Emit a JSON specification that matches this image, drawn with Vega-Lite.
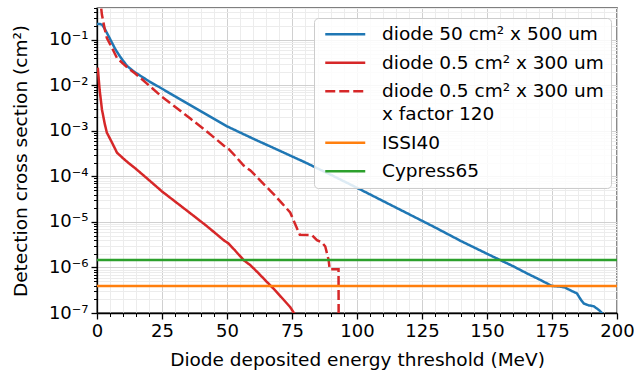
{
  "$schema": "https://vega.github.io/schema/vega-lite/v6.json",
  "autosize": {"type": "none"},
  "padding": {"left": 97, "top": 8, "right": 17, "bottom": 62},
  "width": 520,
  "height": 305,
  "background": "white",
  "data": {
    "values": [
      {"series": "diode 50 cm² x 500 um", "E": 0, "sigma": 0.224},
      {"series": "diode 50 cm² x 500 um", "E": 1, "sigma": 0.224},
      {"series": "diode 50 cm² x 500 um", "E": 2, "sigma": 0.214},
      {"series": "diode 50 cm² x 500 um", "E": 3, "sigma": 0.174},
      {"series": "diode 50 cm² x 500 um", "E": 4, "sigma": 0.135},
      {"series": "diode 50 cm² x 500 um", "E": 5, "sigma": 0.105},
      {"series": "diode 50 cm² x 500 um", "E": 7, "sigma": 0.063},
      {"series": "diode 50 cm² x 500 um", "E": 9, "sigma": 0.0417},
      {"series": "diode 50 cm² x 500 um", "E": 11.5, "sigma": 0.0269},
      {"series": "diode 50 cm² x 500 um", "E": 14, "sigma": 0.0204},
      {"series": "diode 50 cm² x 500 um", "E": 17, "sigma": 0.0158},
      {"series": "diode 50 cm² x 500 um", "E": 20, "sigma": 0.0123},
      {"series": "diode 50 cm² x 500 um", "E": 24.3, "sigma": 0.00891},
      {"series": "diode 50 cm² x 500 um", "E": 30, "sigma": 0.00575},
      {"series": "diode 50 cm² x 500 um", "E": 40, "sigma": 0.00269},
      {"series": "diode 50 cm² x 500 um", "E": 50, "sigma": 0.00126},
      {"series": "diode 50 cm² x 500 um", "E": 60, "sigma": 0.000676},
      {"series": "diode 50 cm² x 500 um", "E": 70, "sigma": 0.000372},
      {"series": "diode 50 cm² x 500 um", "E": 80, "sigma": 0.000204},
      {"series": "diode 50 cm² x 500 um", "E": 90, "sigma": 0.000108},
      {"series": "diode 50 cm² x 500 um", "E": 100, "sigma": 5.62e-5},
      {"series": "diode 50 cm² x 500 um", "E": 110, "sigma": 2.88e-5},
      {"series": "diode 50 cm² x 500 um", "E": 120, "sigma": 1.48e-5},
      {"series": "diode 50 cm² x 500 um", "E": 130, "sigma": 7.59e-6},
      {"series": "diode 50 cm² x 500 um", "E": 140, "sigma": 3.8e-6},
      {"series": "diode 50 cm² x 500 um", "E": 150, "sigma": 2.0e-6},
      {"series": "diode 50 cm² x 500 um", "E": 155, "sigma": 1.46e-6},
      {"series": "diode 50 cm² x 500 um", "E": 160, "sigma": 1.07e-6},
      {"series": "diode 50 cm² x 500 um", "E": 165, "sigma": 7.59e-7},
      {"series": "diode 50 cm² x 500 um", "E": 170, "sigma": 5.5e-7},
      {"series": "diode 50 cm² x 500 um", "E": 175, "sigma": 3.92e-7},
      {"series": "diode 50 cm² x 500 um", "E": 178, "sigma": 3.8e-7},
      {"series": "diode 50 cm² x 500 um", "E": 180, "sigma": 3.63e-7},
      {"series": "diode 50 cm² x 500 um", "E": 182, "sigma": 3.16e-7},
      {"series": "diode 50 cm² x 500 um", "E": 184.6, "sigma": 2.69e-7},
      {"series": "diode 50 cm² x 500 um", "E": 186, "sigma": 2.0e-7},
      {"series": "diode 50 cm² x 500 um", "E": 187.2, "sigma": 1.62e-7},
      {"series": "diode 50 cm² x 500 um", "E": 189, "sigma": 1.48e-7},
      {"series": "diode 50 cm² x 500 um", "E": 191, "sigma": 1.41e-7},
      {"series": "diode 50 cm² x 500 um", "E": 193, "sigma": 1.17e-7},
      {"series": "diode 50 cm² x 500 um", "E": 194.2, "sigma": 1.0e-7},
      {"series": "diode 50 cm² x 500 um", "E": 195, "sigma": 7.9e-8},

      {"series": "diode 0.5 cm² x 300 um", "E": 0.3, "sigma": 0.0245},
      {"series": "diode 0.5 cm² x 300 um", "E": 1.0, "sigma": 0.0081},
      {"series": "diode 0.5 cm² x 300 um", "E": 1.9, "sigma": 0.00295},
      {"series": "diode 0.5 cm² x 300 um", "E": 3.0, "sigma": 0.00141},
      {"series": "diode 0.5 cm² x 300 um", "E": 3.8, "sigma": 0.000912},
      {"series": "diode 0.5 cm² x 300 um", "E": 5.8, "sigma": 0.00055},
      {"series": "diode 0.5 cm² x 300 um", "E": 7.7, "sigma": 0.000331},
      {"series": "diode 0.5 cm² x 300 um", "E": 10, "sigma": 0.000251},
      {"series": "diode 0.5 cm² x 300 um", "E": 12, "sigma": 0.0002},
      {"series": "diode 0.5 cm² x 300 um", "E": 14.7, "sigma": 0.000151},
      {"series": "diode 0.5 cm² x 300 um", "E": 20, "sigma": 8.3e-5},
      {"series": "diode 0.5 cm² x 300 um", "E": 25, "sigma": 4.68e-5},
      {"series": "diode 0.5 cm² x 300 um", "E": 30, "sigma": 2.82e-5},
      {"series": "diode 0.5 cm² x 300 um", "E": 35.9, "sigma": 1.55e-5},
      {"series": "diode 0.5 cm² x 300 um", "E": 42, "sigma": 8.3e-6},
      {"series": "diode 0.5 cm² x 300 um", "E": 46, "sigma": 5.37e-6},
      {"series": "diode 0.5 cm² x 300 um", "E": 48.7, "sigma": 3.98e-6},
      {"series": "diode 0.5 cm² x 300 um", "E": 50.5, "sigma": 3.39e-6},
      {"series": "diode 0.5 cm² x 300 um", "E": 53, "sigma": 2.4e-6},
      {"series": "diode 0.5 cm² x 300 um", "E": 56.4, "sigma": 1.45e-6},
      {"series": "diode 0.5 cm² x 300 um", "E": 59, "sigma": 1.12e-6},
      {"series": "diode 0.5 cm² x 300 um", "E": 62, "sigma": 7.6e-7},
      {"series": "diode 0.5 cm² x 300 um", "E": 64.5, "sigma": 5.4e-7},
      {"series": "diode 0.5 cm² x 300 um", "E": 66.6, "sigma": 4.07e-7},
      {"series": "diode 0.5 cm² x 300 um", "E": 68.5, "sigma": 3.16e-7},
      {"series": "diode 0.5 cm² x 300 um", "E": 71, "sigma": 2.19e-7},
      {"series": "diode 0.5 cm² x 300 um", "E": 74.3, "sigma": 1.35e-7},
      {"series": "diode 0.5 cm² x 300 um", "E": 76, "sigma": 9.5e-8},

      {"series": "diode 0.5 cm² x 300 um x factor 120", "E": 1.0, "sigma": 0.975},
      {"series": "diode 0.5 cm² x 300 um x factor 120", "E": 1.9, "sigma": 0.354},
      {"series": "diode 0.5 cm² x 300 um x factor 120", "E": 3.0, "sigma": 0.169},
      {"series": "diode 0.5 cm² x 300 um x factor 120", "E": 3.8, "sigma": 0.109},
      {"series": "diode 0.5 cm² x 300 um x factor 120", "E": 5.8, "sigma": 0.0659},
      {"series": "diode 0.5 cm² x 300 um x factor 120", "E": 7.7, "sigma": 0.0397},
      {"series": "diode 0.5 cm² x 300 um x factor 120", "E": 10, "sigma": 0.0301},
      {"series": "diode 0.5 cm² x 300 um x factor 120", "E": 12, "sigma": 0.0239},
      {"series": "diode 0.5 cm² x 300 um x factor 120", "E": 14.7, "sigma": 0.0182},
      {"series": "diode 0.5 cm² x 300 um x factor 120", "E": 20, "sigma": 0.00998},
      {"series": "diode 0.5 cm² x 300 um x factor 120", "E": 25, "sigma": 0.00561},
      {"series": "diode 0.5 cm² x 300 um x factor 120", "E": 30, "sigma": 0.00338},
      {"series": "diode 0.5 cm² x 300 um x factor 120", "E": 35.9, "sigma": 0.00186},
      {"series": "diode 0.5 cm² x 300 um x factor 120", "E": 42, "sigma": 0.000998},
      {"series": "diode 0.5 cm² x 300 um x factor 120", "E": 46, "sigma": 0.000644},
      {"series": "diode 0.5 cm² x 300 um x factor 120", "E": 48.7, "sigma": 0.000478},
      {"series": "diode 0.5 cm² x 300 um x factor 120", "E": 50.5, "sigma": 0.000406},
      {"series": "diode 0.5 cm² x 300 um x factor 120", "E": 53, "sigma": 0.000288},
      {"series": "diode 0.5 cm² x 300 um x factor 120", "E": 56.4, "sigma": 0.000173},
      {"series": "diode 0.5 cm² x 300 um x factor 120", "E": 59, "sigma": 0.000135},
      {"series": "diode 0.5 cm² x 300 um x factor 120", "E": 62, "sigma": 9.1e-5},
      {"series": "diode 0.5 cm² x 300 um x factor 120", "E": 64.5, "sigma": 6.44e-5},
      {"series": "diode 0.5 cm² x 300 um x factor 120", "E": 66.6, "sigma": 4.89e-5},
      {"series": "diode 0.5 cm² x 300 um x factor 120", "E": 68.5, "sigma": 3.79e-5},
      {"series": "diode 0.5 cm² x 300 um x factor 120", "E": 71, "sigma": 2.62e-5},
      {"series": "diode 0.5 cm² x 300 um x factor 120", "E": 74.3, "sigma": 1.62e-5},
      {"series": "diode 0.5 cm² x 300 um x factor 120", "E": 76.9, "sigma": 7.24e-6},
      {"series": "diode 0.5 cm² x 300 um x factor 120", "E": 78, "sigma": 5.25e-6},
      {"series": "diode 0.5 cm² x 300 um x factor 120", "E": 82.7, "sigma": 5.13e-6},
      {"series": "diode 0.5 cm² x 300 um x factor 120", "E": 84.6, "sigma": 3.98e-6},
      {"series": "diode 0.5 cm² x 300 um x factor 120", "E": 86.5, "sigma": 3.55e-6},
      {"series": "diode 0.5 cm² x 300 um x factor 120", "E": 87.8, "sigma": 2.88e-6},
      {"series": "diode 0.5 cm² x 300 um x factor 120", "E": 89.1, "sigma": 1.45e-6},
      {"series": "diode 0.5 cm² x 300 um x factor 120", "E": 89.5, "sigma": 9.1e-7},
      {"series": "diode 0.5 cm² x 300 um x factor 120", "E": 92.9, "sigma": 9.1e-7},
      {"series": "diode 0.5 cm² x 300 um x factor 120", "E": 93.0, "sigma": 1e-9},

      {"series": "ISSI40", "E": 0, "sigma": 3.9e-7},
      {"series": "ISSI40", "E": 200, "sigma": 3.9e-7},
      {"series": "Cypress65", "E": 0, "sigma": 1.46e-6},
      {"series": "Cypress65", "E": 200, "sigma": 1.46e-6}
    ]
  },
  "mark": {"type": "line", "clip": true, "strokeWidth": 2.5},
  "encoding": {
    "x": {
      "field": "E", "type": "quantitative",
      "scale": {"domain": [0, 200], "nice": false, "zero": false},
      "axis": {
        "title": "Diode deposited energy threshold (MeV)",
        "values": [0,5,10,15,20,25,30,35,40,45,50,55,60,65,70,75,80,85,90,95,100,105,110,115,120,125,130,135,140,145,150,155,160,165,170,175,180,185,190,195,200],
        "format": "d",
        "labelExpr": "datum.value % 25 === 0 ? datum.label : ''",
        "labelOverlap": false,
        "labelFlush": false,
        "labelBound": false,
        "gridColor": {"condition": {"test": "datum.value % 25 === 0", "value": "#d0d0d0"}, "value": "#ececec"},
        "tickSize": {"condition": {"test": "datum.value % 25 === 0", "value": 6}, "value": 3.5},
        "tickWidth": {"condition": {"test": "datum.value % 25 === 0", "value": 1.3}, "value": 1},
        "titlePadding": 10
      }
    },
    "y": {
      "field": "sigma", "type": "quantitative",
      "scale": {"type": "log", "domain": [1e-7, 0.5], "nice": false},
      "axis": {
        "title": "Detection cross section (cm²)",
        "values": [1e-7,2e-7,3e-7,4e-7,5e-7,6e-7,7e-7,8e-7,9e-7,1e-6,2e-6,3e-6,4e-6,5e-6,6e-6,7e-6,8e-6,9e-6,1e-5,2e-5,3e-5,4e-5,5e-5,6e-5,7e-5,8e-5,9e-5,1e-4,2e-4,3e-4,4e-4,5e-4,6e-4,7e-4,8e-4,9e-4,1e-3,2e-3,3e-3,4e-3,5e-3,6e-3,7e-3,8e-3,9e-3,1e-2,2e-2,3e-2,4e-2,5e-2,6e-2,7e-2,8e-2,9e-2,1e-1,2e-1,3e-1,4e-1,5e-1],
        "labelExpr": "abs(log(datum.value)/LN10 - round(log(datum.value)/LN10)) < 0.001 ? '10⁻' + ['⁰','¹','²','³','⁴','⁵','⁶','⁷','⁸','⁹'][-round(log(datum.value)/LN10)] : ''",
        "labelOverlap": false,
        "labelFlush": false,
        "labelBound": false,
        "gridColor": {"condition": {"test": "abs(log(datum.value)/LN10 - round(log(datum.value)/LN10)) < 0.001", "value": "#d0d0d0"}, "value": "#ececec"},
        "tickSize": {"condition": {"test": "abs(log(datum.value)/LN10 - round(log(datum.value)/LN10)) < 0.001", "value": 6}, "value": 3.5},
        "tickWidth": {"condition": {"test": "abs(log(datum.value)/LN10 - round(log(datum.value)/LN10)) < 0.001", "value": 1.3}, "value": 1},
        "titlePadding": 18
      }
    },
    "color": {
      "field": "series", "type": "nominal",
      "scale": {
        "domain": ["diode 50 cm² x 500 um", "diode 0.5 cm² x 300 um", "diode 0.5 cm² x 300 um x factor 120", "ISSI40", "Cypress65"],
        "range": ["#1f77b4", "#d62728", "#d62728", "#ff7f0e", "#2ca02c"]
      },
      "legend": {
        "title": null,
        "labelExpr": "datum.value === 'diode 0.5 cm² x 300 um x factor 120' ? ['diode 0.5 cm² x 300 um', '\u2002x factor 120'] : datum.label"
      }
    },
    "strokeDash": {
      "field": "series", "type": "nominal",
      "scale": {
        "domain": ["diode 50 cm² x 500 um", "diode 0.5 cm² x 300 um", "diode 0.5 cm² x 300 um x factor 120", "ISSI40", "Cypress65"],
        "range": [[1, 0], [1, 0], [10, 4], [1, 0], [1, 0]]
      },
      "legend": {
        "title": null,
        "labelExpr": "datum.value === 'diode 0.5 cm² x 300 um x factor 120' ? ['diode 0.5 cm² x 300 um', '\u2002x factor 120'] : datum.label"
      }
    }
  },
  "config": {
    "font": "DejaVu Sans",
    "view": {"stroke": "black", "strokeWidth": 1.3},
    "style": {"guide-label": {"lineHeight": 23}},
    "axis": {
      "grid": true,
      "gridWidth": 1,
      "domainColor": "black",
      "domainWidth": 1.3,
      "tickColor": "black",
      "labelColor": "black",
      "labelFontSize": 18,
      "labelPadding": 3,
      "titleColor": "black",
      "titleFontSize": 18.5,
      "titleFontWeight": "normal"
    },
    "legend": {
      "orient": "none",
      "legendX": 217,
      "legendY": 10,
      "fillColor": "rgba(255,255,255,0.85)",
      "strokeColor": "#cccccc",
      "cornerRadius": 4,
      "padding": 7,
      "labelFontSize": 18.5,
      "labelColor": "black",
      "labelLimit": 500,
      "labelOffset": 42.5,
      "symbolType": "M-1,0L7,0",
      "symbolSize": 100,
      "symbolStrokeWidth": 2.5,
      "rowPadding": 9.5
    }
  }
}
